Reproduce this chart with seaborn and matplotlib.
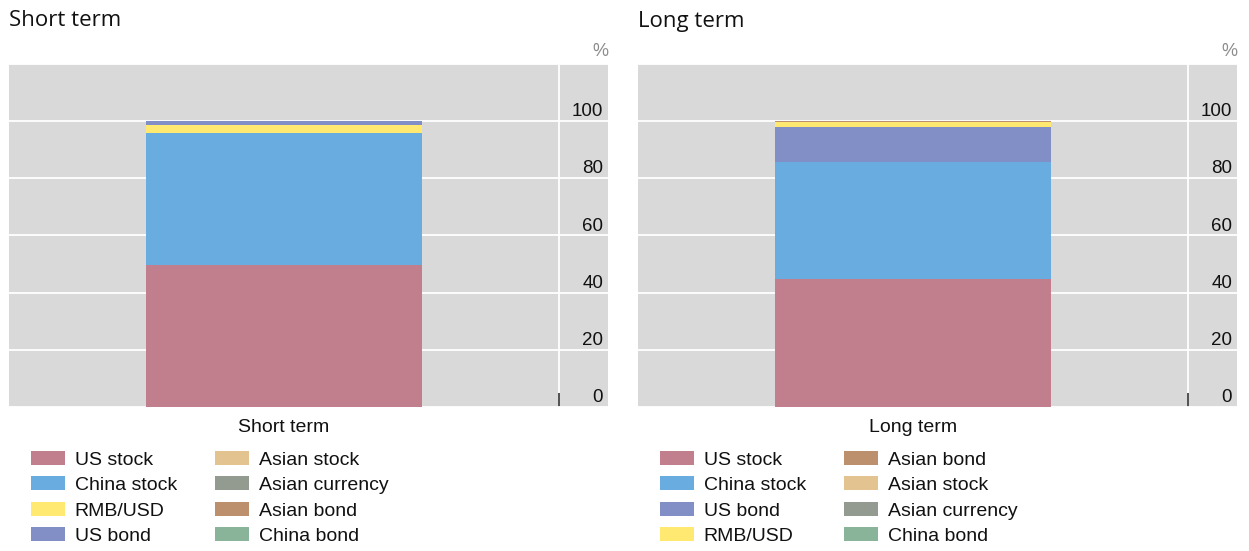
import matplotlib
matplotlib.use("Agg")
import matplotlib.pyplot as plt
from matplotlib.patches import Patch
import seaborn as sns

# data (percent of portfolio)
short_assets = ["US stock", "China stock", "RMB/USD", "US bond",
                "Asian stock", "Asian currency", "Asian bond", "China bond"]
short_values = [49.8, 46.2, 2.5, 1.5, 0, 0, 0, 0]

long_assets = ["US stock", "China stock", "US bond", "RMB/USD",
               "Asian bond", "Asian stock", "Asian currency", "China bond"]
long_values = [44.9, 40.7, 12.4, 1.7, 0.3, 0, 0, 0]

y_ticks = [0, 20, 40, 60, 80, 100]

colors = {
    "US stock": "#C17F8E",
    "China stock": "#69ADE0",
    "RMB/USD": "#FFE970",
    "US bond": "#828FC6",
    "Asian stock": "#E3C491",
    "Asian currency": "#939B91",
    "Asian bond": "#BD906D",
    "China bond": "#8AB49A",
}

sns.set_theme(style="darkgrid")
plt.rcParams["font.family"] = ["Liberation Sans", "DejaVu Sans"]

fig = plt.figure(figsize=(12.49, 5.51), dpi=100)
W, H = 1249, 551

panels = [
    ("Short term", short_assets, short_values, 9),
    ("Long term", long_assets, long_values, 638),
]

for title, assets, values, x0 in panels:
    ax = fig.add_axes([x0 / W, 144 / H, 599 / W, 343 / H])
    ax.set_facecolor("#d9d9d9")

    bottom = 0
    for asset, v in zip(assets, values):
        sns.barplot(x=[title], y=[v], bottom=bottom, color=colors[asset],
                    width=0.502, saturation=1, errorbar=None, linewidth=0, ax=ax)
        bottom += v

    ax.set_xlim(-0.5, 0.589)
    ax.set_ylim(0, 120)
    ax.set_yticks(range(0, 121, 20))
    ax.yaxis.grid(True, color="white", linewidth=1.3)
    ax.xaxis.grid(False)
    ax.set_axisbelow(True)
    ax.axvline(0.5, color="white", linewidth=1.3, zorder=0.5)
    ax.tick_params(axis="y", length=0, labelleft=False, labelright=False)
    ax.tick_params(axis="x", which="major", length=0, pad=8.5, labelsize=14,
                   labelcolor="#111111")
    ax.set_xticks([0.5], minor=True)
    ax.tick_params(axis="x", which="minor", bottom=True, direction="in",
                   length=10, width=1.2, color="#333333")
    ax.set_xlabel("")
    ax.set_ylabel("")
    for s in ax.spines.values():
        s.set_visible(False)

    for v in y_ticks:
        ax.annotate(str(v), xy=(1, v), xycoords=("axes fraction", "data"),
                    xytext=(-3.5, 3.5), textcoords="offset points",
                    ha="right", va="baseline", fontsize=13.5, color="#111111")
    ax.annotate("%", xy=(1, 1), xycoords="axes fraction", xytext=(0, 3),
                textcoords="offset points", ha="right", va="bottom",
                fontsize=13, color="#8c8c8c")

    ax.set_title(title, loc="left", pad=27, fontsize=16,
                 fontfamily=["Open Sans", "DejaVu Sans"], color="#111111")

    handles = [Patch(facecolor=colors[a], edgecolor="none", label=a) for a in assets]
    ax.legend(handles=handles, ncol=2, loc="upper left",
              bbox_to_anchor=(22 / 599, -0.128), frameon=False, fontsize=14,
              handlelength=1.75, handleheight=0.72, handletextpad=0.5,
              columnspacing=1.95, labelspacing=0.4, borderpad=0,
              borderaxespad=0)
    for t in ax.get_legend().get_texts():
        t.set_color("#111111")

fig.savefig("out.png", dpi=100)
